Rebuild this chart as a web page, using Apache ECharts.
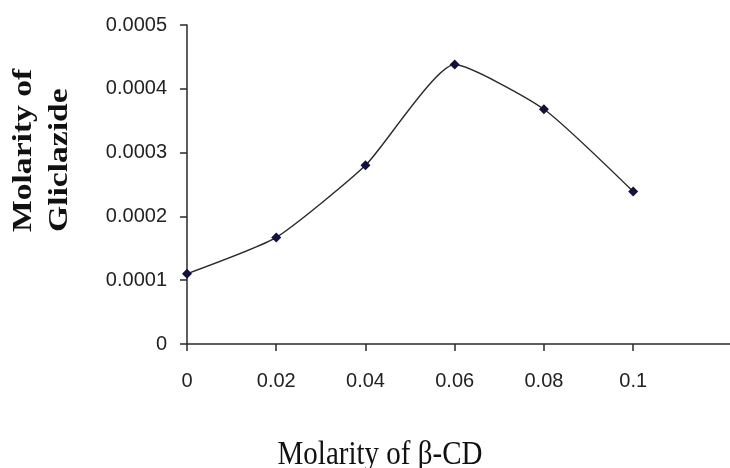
<!DOCTYPE html>
<html>
<head>
<meta charset="utf-8">
<script src="https://cdn.jsdelivr.net/npm/echarts@6/dist/echarts.min.js"></script>
<style>html,body{margin:0;padding:0;background:#fff}#c{width:730px;height:468px}</style>
</head>
<body>
<div id="c"></div>
<script>
const xValues = [0, 0.02, 0.04, 0.06, 0.08, 0.1];
const yValues = [0.00011, 0.000167, 0.00028, 0.000438, 0.000368, 0.000239];
const xTicks = [0, 0.02, 0.04, 0.06, 0.08, 0.1];
const yTicks = [0, 0.0001, 0.0002, 0.0003, 0.0004, 0.0005];
const xTitle = 'Molarity of β-CD';
const yTitle = 'Molarity of\nGliclazide';

const chart = echarts.init(document.getElementById('c'), null, {renderer: 'canvas'});
const fmt = v => String(+(+v).toFixed(6));
chart.setOption({
  animation: false,
  backgroundColor: '#fff',
  grid: {left: 187, top: 25, right: 0, bottom: 124, containLabel: false},
  xAxis: {
    type: 'value', min: 0, max: 0.1217,
    axisLine: {lineStyle: {color: '#2a2a2a', width: 1.5}},
    axisTick: {show: true, length: 7, customValues: xTicks, lineStyle: {color: '#2a2a2a', width: 1.5}},
    axisLabel: {customValues: xTicks, formatter: fmt, margin: 27, fontFamily: 'Liberation Sans', fontSize: 20, color: '#222'},
    splitLine: {show: false}
  },
  yAxis: {
    type: 'value', min: 0, max: 0.0005, interval: 0.0001,
    axisLine: {show: true, lineStyle: {color: '#2a2a2a', width: 1.5}},
    axisTick: {show: true, length: 7, customValues: yTicks, lineStyle: {color: '#2a2a2a', width: 1.5}},
    axisLabel: {customValues: yTicks, formatter: fmt, margin: 20, fontFamily: 'Liberation Sans', fontSize: 20, color: '#222'},
    splitLine: {show: false}
  },
  graphic: [
    {type: 'text', x: 42, y: 232, rotation: Math.PI / 2, scaleX: 1.2,
     style: {text: yTitle, font: 'bold 28px "Liberation Serif"', fill: '#111', textAlign: 'left', textVerticalAlign: 'middle', lineHeight: 36}},
    {type: 'text', x: 380, y: 455, scaleY: 1.15,
     style: {text: xTitle, font: '29px "Liberation Serif"', fill: '#111', textAlign: 'center', textVerticalAlign: 'middle'}}
  ],
  series: [{
    type: 'line',
    data: xValues.map((x, i) => [x, yValues[i]]),
    smooth: 0.18,
    symbol: 'diamond', symbolSize: 10,
    itemStyle: {color: '#12123c'},
    lineStyle: {color: '#2a2a2a', width: 1.4}
  }]
});
</script>
</body>
</html>
